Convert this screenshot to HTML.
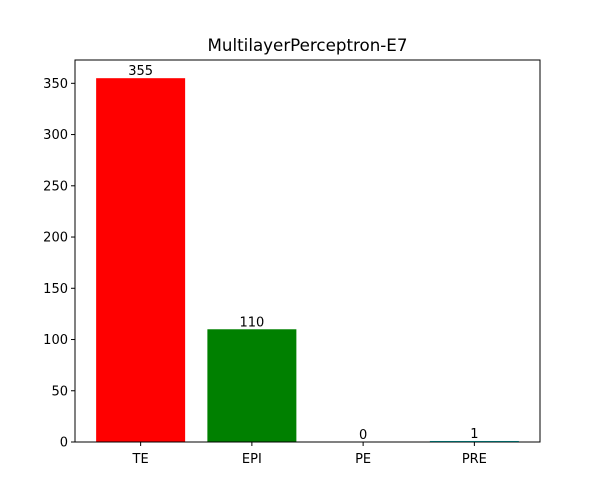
<!DOCTYPE html>
<html><head><meta charset="utf-8"><style>
body{margin:0;background:#fff;}
svg{display:block;font-family:"DejaVu Sans","Liberation Sans",sans-serif;}
</style></head><body>
<svg id="chart" width="600" height="497">
<rect width="600" height="497" fill="#fff"/>
<text x="307.5" y="51" font-size="16.7" text-anchor="middle">MultilayerPerceptron-E7</text>
<g id="bars"></g>
<g id="axes"></g>
</svg>
<script>
const categories=["TE","EPI","PE","PRE"];
const values=[355,110,0,1];
const colors=["#ff0000","#008000","#0000ff","#00bfbf"];
const yTicks=[0,50,100,150,200,250,300,350];
const L=75,R=540,T=60,B=442;
const ymax=Math.max(...values)*1.05;
const xmin=-0.59,xmax=categories.length-1+0.59;
const sx=v=>L+(v-xmin)/(xmax-xmin)*(R-L);
const sy=v=>B-v/ymax*(B-T);
const NS="http://www.w3.org/2000/svg";
function mk(t,a,p){const e=document.createElementNS(NS,t);for(const k in a)e.setAttribute(k,a[k]);p.appendChild(e);return e;}
const bars=document.getElementById('bars'),axes=document.getElementById('axes');
categories.forEach((c,i)=>{
 const x0=sx(i-0.4),x1=sx(i+0.4),y=sy(values[i]);
 const r=mk('rect',{x:x0,y:y,width:x1-x0,height:B-y,fill:colors[i]},bars);
 
 
 const t=mk('text',{x:sx(i),y:y-3,'font-size':13,'text-anchor':'middle'},bars);t.textContent=values[i];
 
 
 mk('line',{x1:sx(i),x2:sx(i),y1:B,y2:B+4,stroke:'#000'},axes);
 const xl=mk('text',{x:sx(i),y:B+21,'font-size':13,'text-anchor':'middle'},axes);xl.textContent=c;
 
 
});
yTicks.forEach(v=>{
 const y=sy(v);
 mk('line',{x1:L-4,x2:L,y1:y,y2:y,stroke:'#000'},axes);
 const t=mk('text',{x:L-7,y:y+4.5,'font-size':13,'text-anchor':'end'},axes);t.textContent=v;
 
 
});
const f=mk('rect',{x:L,y:T,width:R-L,height:B-T,fill:'none',stroke:'#000','stroke-width':1},axes);


</script>
</body></html>
